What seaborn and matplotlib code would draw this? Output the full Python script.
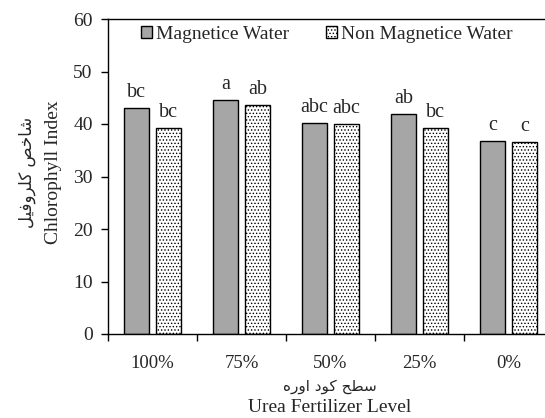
import pandas as pd
import seaborn as sns
import matplotlib.pyplot as plt

levels = ['100%', '75%', '50%', '25%', '0%']
magnetic = [43.1, 44.5, 40.1, 41.9, 36.8]
non_magnetic = [39.2, 43.6, 40.0, 39.2, 36.6]
magnetic_letters = ['bc', 'a', 'abc', 'ab', 'c']
non_magnetic_letters = ['bc', 'ab', 'abc', 'bc', 'c']
series_names = ['Magnetice Water', 'Non Magnetice Water']

# Persian labels written in visual order with Arabic presentation forms
fa_ylabel = '\ufede\ufef4\ufed3\ufeed\ufeae\ufee0\ufb90 \ufeba\ufea7\ufe8e\ufeb7'  # شاخص کلروفیل
fa_xlabel = '\ufee9\ufead\ufeed\ufe8d \ufea9\ufeee\ufb90 \ufea2\ufec4\ufeb3'      # سطح کود اوره

df = pd.DataFrame({
    'level': levels * 2,
    'value': magnetic + non_magnetic,
    'water': [series_names[0]] * 5 + [series_names[1]] * 5,
})

sns.set_theme(style='white')
plt.rcParams['font.family'] = ['Liberation Serif', 'DejaVu Sans']
plt.rcParams['hatch.linewidth'] = 0.6

fig = plt.figure(figsize=(5.45, 4.18), dpi=100)
ax = fig.add_axes([108 / 545, 84 / 418, 445 / 545, 315 / 418])

sns.barplot(data=df, x='level', y='value', hue='water', order=levels,
            palette=['#a6a6a6', 'white'], width=0.72, gap=0.2,
            edgecolor='black', linewidth=1.0, ax=ax, legend=False)

for bar in ax.containers[1]:
    bar.set_hatch('.....')

for cont, letters in zip(ax.containers, [magnetic_letters, non_magnetic_letters]):
    for bar, txt in zip(cont, letters):
        ax.annotate(txt, (bar.get_x() + bar.get_width() / 2, bar.get_height()),
                    xytext=(0, 8), textcoords='offset points',
                    ha='center', va='baseline', fontsize=14.5)

ax.set_xlim(-0.5, 4.5)
ax.set_ylim(0, 60)
ax.set_yticks(range(0, 61, 10))
ax.set_xlabel('')
ax.set_ylabel('')
ax.tick_params(axis='y', left=True, length=5, width=1, labelsize=14, pad=6, color='black')
ax.tick_params(axis='x', bottom=False, labelsize=13.5, pad=9)
ax.set_xticks([i + 0.5 for i in range(-1, 5)], minor=True)
ax.tick_params(axis='x', which='minor', bottom=True, length=5, width=1, color='black')
for side in ['left', 'bottom', 'top']:
    ax.spines[side].set_color('black')
    ax.spines[side].set_linewidth(1)
ax.spines['right'].set_visible(False)

ax.legend(ax.containers, series_names, loc='upper left',
          bbox_to_anchor=((141 - 108) / 445, (334 - 26) / 315),
          ncol=2, frameon=False, fontsize=14, borderpad=0, borderaxespad=0,
          handlelength=0.57, handleheight=0.57, handletextpad=0.2, columnspacing=1.9)

fig.text(53 / 545, 1 - 172 / 418, 'Chlorophyll Index', rotation=90, ha='center', va='center',
         fontsize=14)
fig.text(27 / 545, 1 - 172 / 418, fa_ylabel, rotation=90, ha='center', va='center', fontsize=12,
         family=['DejaVu Sans'])
fig.text(330 / 545, 1 - 386 / 418, fa_xlabel, ha='center', va='center', fontsize=11,
         family=['DejaVu Sans'])
fig.text(330 / 545, 1 - 408 / 418, 'Urea Fertilizer Level', ha='center', va='center',
         fontsize=14)

plt.savefig('out.png', dpi=100)
